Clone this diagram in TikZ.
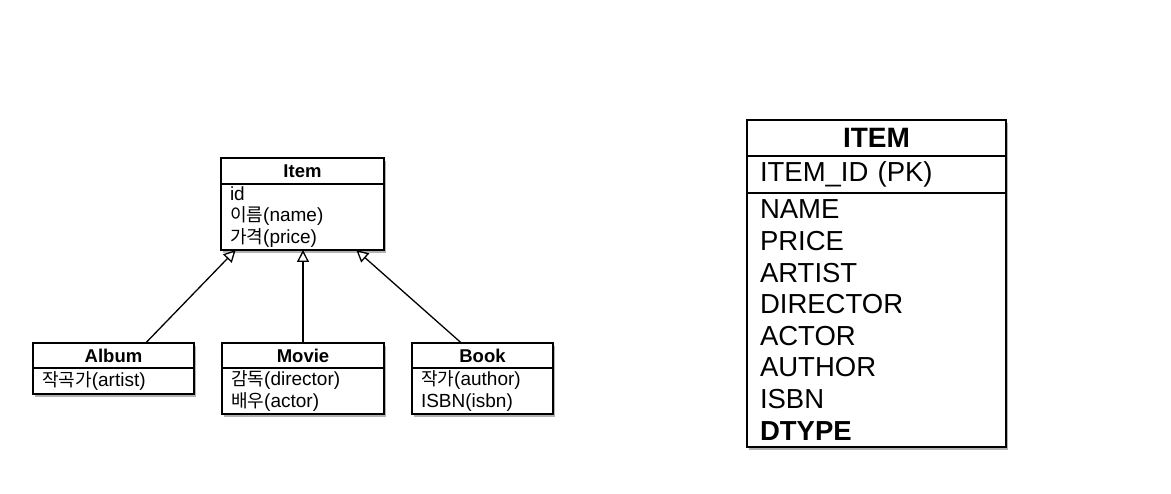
\documentclass[tikz,border=0pt]{standalone}
\usepackage{fontspec}
\setmainfont{Liberation Sans}
\newfontfamily\kr[Scale=0.95]{Noto Sans CJK KR}
\usetikzlibrary{arrows.meta,shadows,calc}
\begin{document}
\begin{tikzpicture}[x=1pt,y=-1pt,
  box/.style={draw, line width=1.5pt, fill=white, inner sep=0pt, outer sep=0pt,
    drop shadow={shadow xshift=2pt, shadow yshift=-3pt, opacity=0.3, fill=black}},
  hdr/.style={box, font=\fontsize{18.5}{21}\selectfont\bfseries, align=center},
  body/.style={box, font=\fontsize{19}{21.5}\selectfont, align=left, inner xsep=9pt},
  thdr/.style={box, font=\fontsize{28}{31.6}\selectfont\bfseries, align=center},
  tbody/.style={box, font=\fontsize{27.5}{31.6}\selectfont, align=left, inner xsep=13pt},
  inh/.style={line width=1.3pt, -{Triangle[open, width=12pt, length=12pt, line width=1.3pt]}}
]
\useasboundingbox (0,0) rectangle (1171,494);
% Item
\node[hdr, minimum width=163pt, minimum height=26pt, anchor=north west] (itemH) at (221,158) {Item};
\node[body, text width=145pt, minimum height=66pt, anchor=north west] (itemB) at (itemH.south west)
  {id\\{\kr 이름}(name)\\{\kr 가격}(price)};
% Album
\node[hdr, minimum width=161pt, minimum height=25pt, anchor=north west] (albumH) at (33,343) {Album};
\node[body, text width=143pt, minimum height=26pt, anchor=north west] (albumB) at (albumH.south west)
  {{\kr 작곡가}(artist)};
% Movie
\node[hdr, minimum width=162pt, minimum height=25pt, anchor=north west] (movieH) at (222,343) {Movie};
\node[body, text width=144pt, minimum height=46pt, anchor=north west] (movieB) at (movieH.south west)
  {{\kr 감독}(director)\\{\kr 배우}(actor)};
% Book
\node[hdr, minimum width=141pt, minimum height=25pt, anchor=north west] (bookH) at (412,343) {Book};
\node[body, text width=123pt, minimum height=46pt, anchor=north west] (bookB) at (bookH.south west)
  {{\kr 작가}(author)\\ISBN(isbn)};
% inheritance
\draw[inh] ($(albumH.north west)!0.70!(albumH.north east)$) -- ($(itemB.south west)!0.09!(itemB.south east)$);
\draw[inh] (movieH.north) -- (movieH.north |- itemB.south);
\draw[inh] ($(bookH.north west)!0.35!(bookH.north east)$) -- ($(itemB.south west)!0.83!(itemB.south east)$);
% ITEM table
\node[thdr, minimum width=259pt, minimum height=36pt, anchor=north west] (tH) at (747,120) {ITEM};
\node[tbody, text width=233pt, minimum height=37pt, anchor=north west] (tPK) at (tH.south west) {ITEM\_ID (PK)};
\node[tbody, text width=233pt, minimum height=254pt, anchor=north west] (tB) at (tPK.south west)
  {NAME\\PRICE\\ARTIST\\DIRECTOR\\ACTOR\\AUTHOR\\ISBN\\\textbf{DTYPE}};
\draw[line width=2.6pt] (tPK.south west) -- (tPK.south east);
\end{tikzpicture}
\end{document}
